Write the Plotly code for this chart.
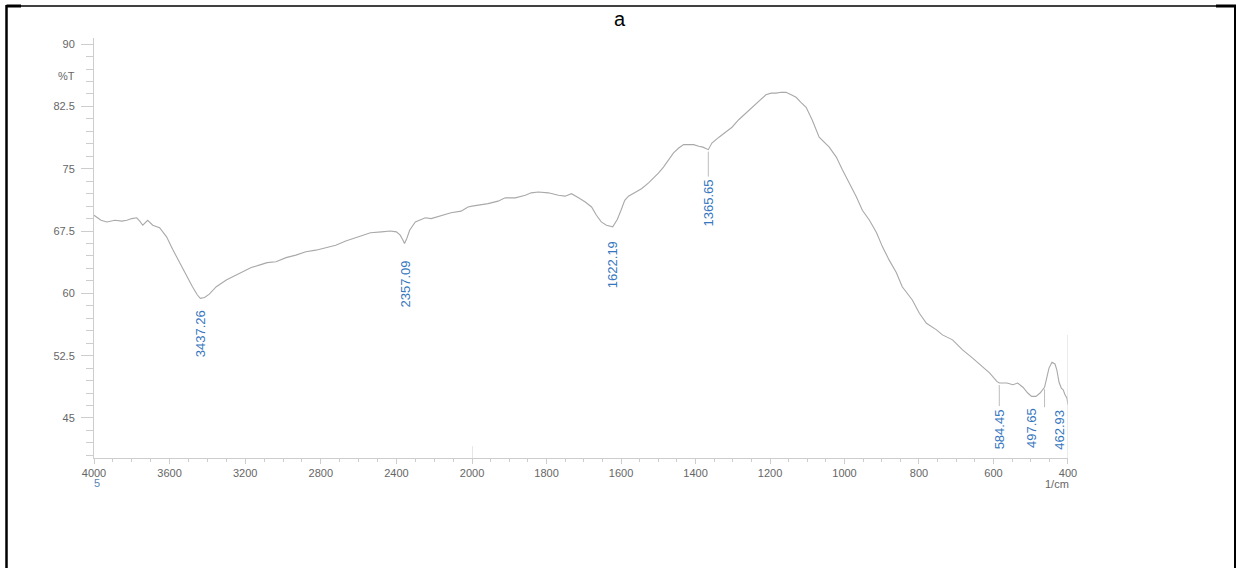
import plotly.graph_objects as go

# FTIR spectrum: wavenumber (cm-1) and transmittance (%T)
WAVENUMBER = [
    4000, 3963, 3932, 3889, 3853, 3826, 3800, 3774, 3758, 3742, 3716, 3689, 3653, 3616,
    3584, 3547, 3511, 3479, 3453, 3437.26, 3415, 3390, 3353, 3300, 3258, 3216, 3168, 3126,
    3084, 3037, 2984, 2932, 2879, 2826, 2774, 2721, 2668, 2616, 2574, 2537, 2479, 2432,
    2400, 2380, 2365, 2357.09, 2345, 2330, 2300, 2247, 2216, 2163, 2111, 2058, 2021, 2000,
    1984, 1957, 1930, 1911, 1884, 1857, 1841, 1822, 1795, 1768, 1750, 1733, 1714, 1696,
    1679, 1666, 1653, 1639, 1622.19, 1610, 1600, 1590, 1580, 1561, 1545, 1526, 1512, 1499,
    1486, 1472, 1459, 1445, 1432, 1418, 1405, 1391, 1380, 1365.65, 1356, 1337, 1319, 1302,
    1284, 1265, 1248, 1230, 1211, 1197, 1184, 1170, 1157, 1143, 1130, 1117, 1103, 1087,
    1068, 1041, 1022, 1006, 987, 968, 952, 933, 914, 898, 880, 861, 845, 818, 799, 780,
    753, 737, 710, 683, 656, 629, 610, 591, 584.45, 564, 548, 535, 521, 508, 497.65, 486,
    475, 462.93, 459, 451, 443, 435, 430, 424, 418, 413, 408, 403, 400,
]
TRANSMITTANCE = [
    69.4, 68.8, 68.6, 68.8, 68.7, 68.8, 69.0, 69.1, 68.7, 68.2, 68.8, 68.2, 67.9, 66.8,
    65.3, 63.7, 62.0, 60.8, 59.8, 59.4, 59.5, 59.9, 60.8, 61.6, 62.1, 62.6, 63.1, 63.4,
    63.7, 63.8, 64.3, 64.6, 65.0, 65.2, 65.5, 65.8, 66.3, 66.7, 67.0, 67.3, 67.4, 67.5,
    67.4, 67.0, 66.4, 66.0, 66.6, 67.6, 68.6, 69.1, 69.0, 69.4, 69.7, 69.9, 70.4, 70.5,
    70.6, 70.8, 71.1, 71.5, 71.5, 71.8, 72.1, 72.2, 72.1, 71.8, 71.7, 72.0, 71.5, 71.0,
    70.4, 69.4, 68.6, 68.2, 68.0, 68.9, 70.0, 71.2, 71.7, 72.2, 72.6, 73.3, 73.9, 74.5,
    75.2, 76.1, 76.9, 77.5, 77.9, 77.9, 77.9, 77.7, 77.6, 77.3, 78.1, 78.8, 79.4, 80.0,
    80.9, 81.7, 82.4, 83.2, 83.9, 84.1, 84.1, 84.2, 84.2, 83.9, 83.6, 83.0, 82.4, 80.9,
    78.8, 77.6, 76.4, 74.9, 73.3, 71.6, 70.0, 68.8, 67.3, 65.6, 64.0, 62.5, 60.8, 59.2, 57.6, 56.4,
    55.6, 55.0, 54.4, 53.2, 52.2, 51.1, 50.4, 49.4, 49.2, 49.2, 49.0, 49.2, 48.7, 48.0, 47.6, 47.6,
    48.0, 48.7, 49.6, 51.0, 51.7, 51.5, 50.8, 49.3, 48.6, 48.4, 47.8, 47.4, 46.6,
]

# Labelled absorption bands
PEAK_WN = [3437.26, 2357.09, 1622.19, 1365.65, 584.45, 497.65, 462.93]

# Axis ticks
X_TICKS_HIGH = [4000, 3600, 3200, 2800, 2400, 2000]
X_TICKS_LOW = [1800, 1600, 1400, 1200, 1000, 800, 600, 400]
Y_TICKS = [45, 52.5, 60, 67.5, 75, 82.5, 90]
Y_TICK_TEXT = ["45", "52.5", "60", "67.5", "75", "82.5", "90"]

# Label placement (pixels below the band minimum, sideways nudge, leader line)
LABEL_GAP = [10, 15, 12, 28, 24, 10, 21]
LABEL_SHIFT = [0, 0, 0, 0, 0, 0, 15]
LEADER = [False, False, False, True, True, False, True]

LINE_COLOR = "#a9a9a9"
AXIS_COLOR = "#cdcdcd"
TICK_FONT = dict(family="Liberation Sans, Arial, sans-serif", size=11, color="#666666")
LABEL_COLOR = "#3676be"

# Split the trace at 2000 cm-1 where the abscissa scale doubles
hi = [(w, t) for w, t in zip(WAVENUMBER, TRANSMITTANCE) if w >= 2000]
lo = [(w, t) for w, t in zip(WAVENUMBER, TRANSMITTANCE) if w <= 2000]

fig = go.Figure()
fig.add_trace(go.Scatter(x=[p[0] for p in hi], y=[p[1] for p in hi], mode="lines",
                         line=dict(color=LINE_COLOR, width=1.1), xaxis="x", yaxis="y",
                         showlegend=False, hoverinfo="skip"))
fig.add_trace(go.Scatter(x=[p[0] for p in lo], y=[p[1] for p in lo], mode="lines",
                         line=dict(color=LINE_COLOR, width=1.1), xaxis="x2", yaxis="y",
                         showlegend=False, hoverinfo="skip"))

Y_MIN, Y_MAX = 40.18, 90.74
SPLIT = 0.3881

common_x = dict(showline=True, linecolor=AXIS_COLOR, linewidth=1, ticks="outside",
                ticklen=5, tickcolor=AXIS_COLOR, tickfont=TICK_FONT, showgrid=False,
                zeroline=False, anchor="y")

fig.update_layout(
    width=1236, height=568,
    margin=dict(l=94, r=168, t=38, b=110),
    paper_bgcolor="white", plot_bgcolor="white",
    xaxis=dict(domain=[0, SPLIT], range=[4000, 2000], tickvals=X_TICKS_HIGH,
               minor=dict(dtick=100, ticks="outside", ticklen=3, tickcolor=AXIS_COLOR),
               **common_x),
    xaxis2=dict(domain=[SPLIT, 1], range=[2000, 400], tickvals=X_TICKS_LOW,
                minor=dict(dtick=50, ticks="outside", ticklen=3, tickcolor=AXIS_COLOR),
                **common_x),
    yaxis=dict(range=[Y_MIN, Y_MAX], tickvals=Y_TICKS, ticktext=Y_TICK_TEXT,
               showline=True, linecolor=AXIS_COLOR, linewidth=1, ticks="outside",
               ticklen=12, tickcolor=AXIS_COLOR, tickfont=TICK_FONT, ticklabelstandoff=4,
               minor=dict(tick0=45, dtick=1.5, ticks="outside", ticklen=7, tickcolor=AXIS_COLOR),
               showgrid=False, zeroline=False),
)

annotations = []
shapes = []

# Band labels with optional leader lines
for wn, gap, shift, leader in zip(PEAK_WN, LABEL_GAP, LABEL_SHIFT, LEADER):
    t = TRANSMITTANCE[WAVENUMBER.index(wn)]
    xref = "x" if wn >= 2000 else "x2"
    annotations.append(dict(x=wn, y=t, xref=xref, yref="y", text=f"{wn:.2f}",
                            textangle=-90, showarrow=False, xanchor="center", yanchor="top",
                            yshift=-gap, xshift=shift,
                            font=dict(family="Liberation Sans, Arial, sans-serif",
                                      size=13, color=LABEL_COLOR)))
    if leader:
        shapes.append(dict(type="line", xref=xref, yref="y", ysizemode="pixel", yanchor=t,
                           x0=wn, x1=wn, y0=-2, y1=-(gap - 1),
                           line=dict(color="#bcbcbc", width=1)))

# Scale-change marker and end marker
shapes.append(dict(type="line", xref="x2", yref="y", x0=2000, x1=2000, y0=Y_MIN, y1=41.6,
                   line=dict(color=AXIS_COLOR, width=1)))
shapes.append(dict(type="line", xref="x2", yref="y", x0=400, x1=400, y0=Y_MIN, y1=55.0,
                   line=dict(color="#d9d9d9", width=1)))

# Cell frame around the figure
def px_x(px):
    return (px - 94) / 974

def px_y(py):
    return (458 - py) / 420

frame = dict(color="black")
shapes += [
    dict(type="line", xref="paper", yref="paper", x0=px_x(6.5), x1=px_x(1235), y0=px_y(6), y1=px_y(6),
         line=dict(width=1.5, **frame)),
    dict(type="line", xref="paper", yref="paper", x0=px_x(6.5), x1=px_x(6.5), y0=px_y(5), y1=px_y(570),
         line=dict(width=2.5, **frame)),
    dict(type="line", xref="paper", yref="paper", x0=px_x(1235), x1=px_x(1235), y0=px_y(5), y1=px_y(570),
         line=dict(width=2, **frame)),
    dict(type="line", xref="paper", yref="paper", x0=px_x(6.5), x1=px_x(21), y0=px_y(6), y1=px_y(6),
         line=dict(width=3, **frame)),
    dict(type="line", xref="paper", yref="paper", x0=px_x(1216), x1=px_x(1236), y0=px_y(6), y1=px_y(6),
         line=dict(width=3, **frame)),
]

# Title and axis captions
annotations += [
    dict(x=px_x(620), y=px_y(19), xref="paper", yref="paper", text="a", showarrow=False,
         xanchor="center", yanchor="middle",
         font=dict(family="Liberation Sans, Arial, sans-serif", size=20, color="black")),
    dict(x=px_x(77), y=px_y(76), xref="paper", yref="paper", text="%T", showarrow=False,
         xanchor="right", yanchor="middle", font=TICK_FONT),
    dict(x=px_x(97), y=px_y(483), xref="paper", yref="paper", text="5", showarrow=False,
         xanchor="center", yanchor="middle",
         font=dict(family="Liberation Sans, Arial, sans-serif", size=11, color="#5b84b5")),
    dict(x=px_x(1057), y=px_y(484), xref="paper", yref="paper", text="1/cm", showarrow=False,
         xanchor="center", yanchor="middle", font=TICK_FONT),
]

fig.update_layout(annotations=annotations, shapes=shapes)
fig.write_html("out.html")
